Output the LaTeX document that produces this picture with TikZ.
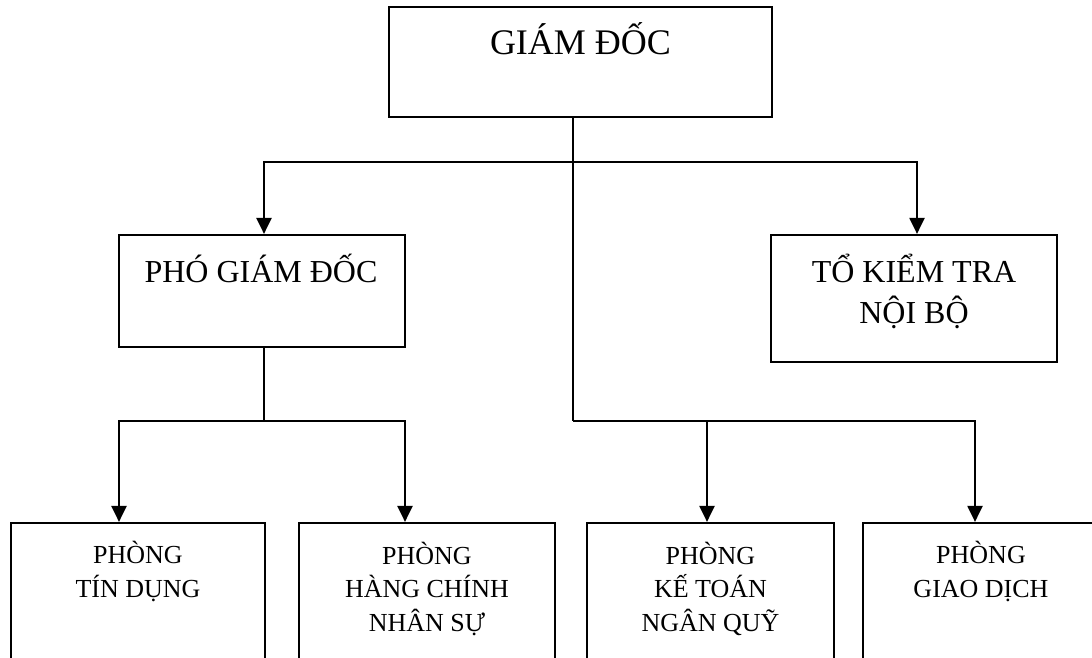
\documentclass[tikz,border=0pt]{standalone}
\usepackage{fontspec}
\setmainfont{Liberation Serif}
\usetikzlibrary{arrows.meta}

\tikzset{
  unitbox/.style={draw, rectangle, line width=2.2pt, inner sep=0pt},
  unitname/.style={align=center, inner sep=0pt, anchor=base},
  link/.style={line width=2.2pt},
  down/.style={line width=2.2pt, -{Triangle[length=16pt,width=15pt]}}
}

\begin{document}
\begin{tikzpicture}[x=1pt, y=-1pt]
        \useasboundingbox (0,0) rectangle (1092,658);
        \clip (0,0) rectangle (1092,658);

        % Top: director
        \node[unitbox, minimum width=383pt, minimum height=110pt] (GD) at (580.5,62) {};
        \node[unitname, font=\fontsize{36}{44}\selectfont] (GDt) at (580.5,55) {GIÁM ĐỐC};

        % Middle: deputy and internal audit
        \node[unitbox, minimum width=286pt, minimum height=112pt] (PGD) at (262,291) {};
        \node[unitname, font=\fontsize{32}{41}\selectfont] (PGDt) at (261,282) {PHÓ GIÁM ĐỐC};
        \node[unitbox, minimum width=286pt, minimum height=127pt] (KT) at (914,298.5) {};
        \node[unitname, font=\fontsize{32}{41}\selectfont] (KTt) at (914,323) {TỔ KIỂM TRA\\NỘI BỘ};

        % Bottom: departments (cut off by the page edge)
        \node[unitbox, minimum width=254pt, minimum height=200pt] (TD) at (138,623) {};
        \node[unitbox, minimum width=256pt, minimum height=200pt] (HC) at (427,623) {};
        \node[unitbox, minimum width=247pt, minimum height=200pt] (KQ) at (710.5,623) {};
        \node[unitbox, minimum width=257pt, minimum height=200pt] (GDC) at (991.5,623) {};
        \node[unitname, font=\fontsize{26}{33.5}\selectfont] (TDt) at (138,597) {PHÒNG\\TÍN DỤNG};
        \node[unitname, font=\fontsize{26}{33.5}\selectfont] (HCt) at (427,631) {PHÒNG\\HÀNG CHÍNH\\NHÂN SỰ};
        \node[unitname, font=\fontsize{26}{33.5}\selectfont] (KQt) at (710.5,631) {PHÒNG\\KẾ TOÁN\\NGÂN QUỸ};
        \node[unitname, font=\fontsize{26}{33.5}\selectfont] (GDCt) at (981,597) {PHÒNG\\GIAO DỊCH};

        % Junctions
        \coordinate (top) at (573,162);
        \coordinate (trunk) at (573,421);
        \coordinate (sub) at (264,421);
        \coordinate (a1) at (119,421);
        \coordinate (a2) at (405,421);
        \coordinate (a3) at (707,421);
        \coordinate (a4) at (975,421);

        % Connections
        \draw[link] (top |- GD.south) -- (trunk);
        \draw[down] (top) -| (PGD.north -| sub);
        \draw[down] (top) -| (KT.north -| 917,0);
        \draw[link] (PGD.south -| sub) -- (sub);
        \foreach \j/\b in {a1/TD, a2/HC} {
            \draw[down] (sub) -| (\j |- \b.north);
        }
        \foreach \j/\b in {a3/KQ, a4/GDC} {
            \draw[down] (trunk) -| (\j |- \b.north);
        }

    \end{tikzpicture}
\end{document}
